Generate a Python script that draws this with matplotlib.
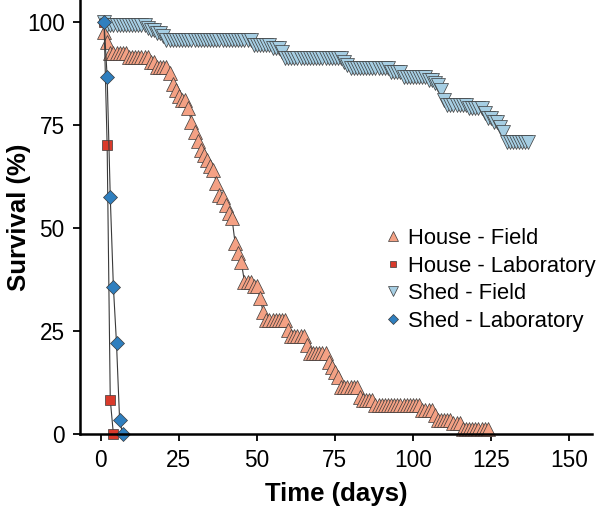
import matplotlib
matplotlib.use('Agg')
import matplotlib.pyplot as plt

plt.rcParams['font.family'] = ['Liberation Sans', 'DejaVu Sans']

# Survival (%) per day
house_field = [97.5, 95.0,
               92.5, 92.5, 92.5, 92.5, 92.5, 92.5,
               91.5, 91.5, 91.5, 91.5, 91.5, 91.5, 91.5,
               90.3, 90.3, 89.0, 89.0, 89.0, 89.0,
               87.6, 85.0, 83.5, 82.0, 81.0, 81.0, 79.0, 75.7, 73.3, 71.0,
               69.0, 67.7, 66.5, 65.0, 64.0, 61.0, 58.0, 57.5, 55.6, 53.6,
               52.4, 46.4, 44.0, 41.7, 37.0, 37.0, 37.0, 36.0, 36.0, 33.0,
               29.6, 27.7, 27.7, 27.7, 27.7, 27.7, 27.7, 27.7,
               25.2, 23.8, 23.8, 23.8, 23.8, 23.8,
               21.6, 19.7, 19.7, 19.7, 19.7, 19.7, 19.7,
               17.5, 16.3, 15.0, 13.8,
               11.4, 11.4, 11.4, 11.4, 11.4, 11.4,
               9.0, 8.2, 8.2, 8.2, 8.2,
               7.0, 7.0, 7.0, 7.0, 7.0, 7.0, 7.0, 7.0,
               7.0, 7.0, 7.0, 7.0, 7.0, 7.0, 7.0,
               5.8, 5.8, 5.8, 5.8, 4.6,
               3.4, 3.4, 3.4, 3.4, 3.4, 2.7, 2.7, 2.7,
               1.2, 1.2, 1.2, 1.2, 1.2, 1.2, 1.2, 1.2, 1.2]
house_field_days = list(range(1, len(house_field) + 1))

shed_field = [100.0,
              99.2, 99.2, 99.2, 99.2, 99.2, 99.2, 99.2,
              99.2, 99.2, 99.2, 99.2, 99.2, 99.2,
              98.5, 98.1, 98.1, 97.3, 97.3, 96.6,
              95.6, 95.6, 95.6, 95.6, 95.6, 95.6, 95.6,
              95.6, 95.6, 95.6, 95.6, 95.6, 95.6, 95.6,
              95.6, 95.6, 95.6, 95.6, 95.6, 95.6, 95.6,
              95.6, 95.6, 95.6, 95.6, 95.6, 95.6, 95.6,
              94.4, 94.4, 94.4, 94.4, 94.4, 94.4,
              93.7, 93.7, 93.7, 92.7,
              91.3, 91.3, 91.3, 91.3, 91.3, 91.3, 91.3, 91.3, 91.3, 91.3,
              91.3, 91.3, 91.3, 91.3, 91.3, 91.3, 91.3, 91.3, 91.3,
              90.3, 89.6,
              88.8, 88.8, 88.8, 88.8, 88.8, 88.8, 88.8,
              88.8, 88.8, 88.8, 88.8, 88.8, 88.8,
              87.9, 87.9, 87.9, 87.9,
              86.6, 86.6, 86.6, 86.6, 86.6, 86.6, 86.6, 86.6,
              86.0, 86.0, 85.2, 84.7, 83.5, 81.0,
              79.9, 79.9, 79.9, 79.9, 79.9, 79.9, 79.9,
              79.1, 79.1, 79.1, 79.1, 79.1,
              77.9, 76.7, 76.7, 75.7, 75.7, 74.5, 73.3,
              70.9, 70.9, 70.9, 70.9, 70.9, 70.9, 70.9, 70.9]
shed_field_days = list(range(1, len(shed_field) + 1))

house_lab_days = [1, 2, 3, 4]
house_lab = [100.0, 70.0, 8.3, 0.0]

shed_lab_days = [1, 2, 3, 4, 5, 6, 7]
shed_lab = [100.0, 86.7, 57.5, 35.7, 22.0, 3.3, 0.0]

fig = plt.figure(figsize=(5.98, 5.07), dpi=100)
ax = fig.add_axes([80/598, 73/507, 512/598, 434/507])

line_kw = dict(color='#3a3a3a', lw=0.8, mec='#3a3a3a', mew=0.5, clip_on=False)

h1, = ax.plot(house_field_days, house_field, marker='^', ms=10, mfc='#F4A184',
              label='House - Field', **line_kw)
h2, = ax.plot(house_lab_days, house_lab, marker='s', ms=7, mfc='#D93A2B',
              label='House - Laboratory', **line_kw)
h3, = ax.plot(shed_field_days, shed_field, marker='v', ms=10, mfc='#A6CEE3',
              label='Shed - Field', **line_kw)
h4, = ax.plot(shed_lab_days, shed_lab, marker='D', ms=7.5, mfc='#2F7FBF',
              label='Shed - Laboratory', **line_kw)

ax.set_xlim(-6.7, 157.4)
ax.set_ylim(0, 105.3)
ax.set_xticks([0, 25, 50, 75, 100, 125, 150])
ax.set_yticks([0, 25, 50, 75, 100])

for s in ['top', 'right']:
    ax.spines[s].set_visible(False)
for s in ['left', 'bottom']:
    ax.spines[s].set_linewidth(1.8)
ax.tick_params(direction='out', length=5, width=1.3, labelsize=16.3, pad=6)

ax.set_xlabel('Time (days)', fontsize=18.5, fontweight='bold')
ax.set_ylabel('Survival (%)', fontsize=18.5, fontweight='bold')
ax.xaxis.set_label_coords(0.5, -48/434)
ax.yaxis.set_label_coords(-49/512, 0.5)

leg = fig.legend(handles=[h1, h2, h3, h4], loc='upper left',
                 bbox_to_anchor=(386/598, 1 - 228/507), frameon=False,
                 fontsize=15.8, handlelength=0.6, handletextpad=0.4,
                 borderpad=0, borderaxespad=0, labelspacing=0.3,
                 markerscale=0.7)
for ln in leg.get_lines():
    ln.set_linestyle('none')

fig.savefig('out.png', dpi=100)
